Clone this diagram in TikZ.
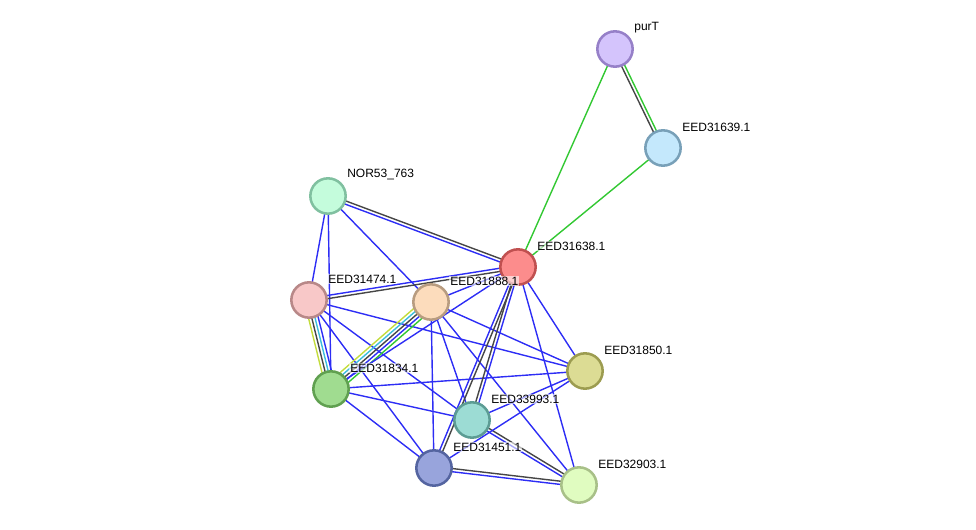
\documentclass[tikz,border=0pt]{standalone}
\usepackage{fontspec}
\setmainfont{Liberation Sans}
\usetikzlibrary{calc,backgrounds}
\definecolor{cb}{RGB}{45,45,245}
\definecolor{ck}{RGB}{70,70,70}
\definecolor{cg}{RGB}{50,200,50}
\definecolor{cy}{RGB}{195,220,60}
\definecolor{cc}{RGB}{60,190,220}
\definecolor{fpurT}{RGB}{212,196,252}\definecolor{dpurT}{RGB}{150,128,200}
\definecolor{f639}{RGB}{196,232,252}\definecolor{d639}{RGB}{120,160,184}
\definecolor{fnor}{RGB}{196,252,220}\definecolor{dnor}{RGB}{128,192,160}
\definecolor{f638}{RGB}{252,140,140}\definecolor{d638}{RGB}{192,80,80}
\definecolor{f474}{RGB}{248,200,200}\definecolor{d474}{RGB}{184,136,136}
\definecolor{f888}{RGB}{252,220,188}\definecolor{d888}{RGB}{184,156,128}
\definecolor{f850}{RGB}{220,220,148}\definecolor{d850}{RGB}{156,156,80}
\definecolor{f834}{RGB}{160,220,144}\definecolor{d834}{RGB}{96,160,80}
\definecolor{f993}{RGB}{156,220,212}\definecolor{d993}{RGB}{92,156,148}
\definecolor{f451}{RGB}{152,164,220}\definecolor{d451}{RGB}{84,100,160}
\definecolor{f903}{RGB}{224,252,192}\definecolor{d903}{RGB}{168,192,136}
\newcommand\pedge[3]{\foreach \o/\c in {#3}{\draw[edg,draw=\c] ($(#1.center)!\o!90:(#2.center)$) -- ($(#2.center)!\o!-90:(#1.center)$);}}
\begin{document}
\begin{tikzpicture}[x=0.75pt,y=-0.75pt,
  prot/.style={circle,draw,line width=1.9pt,minimum size=26.5pt,inner sep=0pt},
  lab/.style={anchor=west,font=\fontsize{9}{10}\selectfont,fill=white,fill opacity=0.6,text opacity=1,inner sep=0.8pt},
  edg/.style={line width=1.05pt}]
\useasboundingbox (0,0) rectangle (976,530);
\node[prot,fill=fpurT,draw=dpurT] (purT) at (615,49) {};
\node[prot,fill=f639,draw=d639] (n639) at (663,148) {};
\node[prot,fill=fnor,draw=dnor] (nor) at (328,196) {};
\node[prot,fill=f638,draw=d638] (n638) at (518,267) {};
\node[prot,fill=f474,draw=d474] (n474) at (309,300) {};
\node[prot,fill=f888,draw=d888] (n888) at (431,302) {};
\node[prot,fill=f850,draw=d850] (n850) at (585,371) {};
\node[prot,fill=f834,draw=d834] (n834) at (331,389) {};
\node[prot,fill=f993,draw=d993] (n993) at (472,420) {};
\node[prot,fill=f451,draw=d451] (n451) at (434,468) {};
\node[prot,fill=f903,draw=d903] (n903) at (579,485) {};
\begin{scope}[on background layer]
\pedge{purT}{n639}{1.2pt/cg,-1.2pt/ck}
\pedge{purT}{n638}{0pt/cg}
\pedge{n639}{n638}{0pt/cg}
\pedge{nor}{n638}{1.2pt/ck,-1.2pt/cb}
\pedge{nor}{n474}{0pt/cb}
\pedge{nor}{n834}{0pt/cb}
\pedge{nor}{n888}{0pt/cb}
\pedge{n474}{n638}{1.2pt/cb,-1.2pt/ck}
\pedge{n474}{n834}{-3.6pt/cy,-1.2pt/ck,1.2pt/cc,3.6pt/cb}
\pedge{n474}{n850}{0pt/cb}
\pedge{n474}{n993}{0pt/cb}
\pedge{n474}{n451}{0pt/cb}
\pedge{n888}{n834}{-4.8pt/cy,-2.4pt/cc,0pt/ck,2.4pt/cb,4.8pt/cg}
\pedge{n888}{n638}{0pt/cb}
\pedge{n888}{n850}{0pt/cb}
\pedge{n888}{n993}{0pt/cb}
\pedge{n888}{n451}{0pt/cb}
\pedge{n888}{n903}{0pt/cb}
\pedge{n834}{n638}{0pt/cb}
\pedge{n834}{n850}{0pt/cb}
\pedge{n834}{n993}{0pt/cb}
\pedge{n834}{n451}{0pt/cb}
\pedge{n638}{n993}{-1.2pt/ck,1.2pt/cb}
\pedge{n638}{n451}{-1.2pt/cb,1.2pt/ck}
\pedge{n638}{n850}{0pt/cb}
\pedge{n638}{n903}{0pt/cb}
\pedge{n993}{n850}{0pt/cb}
\pedge{n993}{n903}{1.2pt/ck,-1.2pt/cb}
\pedge{n451}{n850}{0pt/cb}
\pedge{n451}{n903}{1.2pt/ck,-1.2pt/cb}
\end{scope}
\node[lab] (lpurT) at ($(purT)+(18,-21)$) {purT};
\node[lab] (l639) at ($(n639)+(18,-21)$) {EED31639.1};
\node[lab] (lnor) at ($(nor)+(18,-21)$) {NOR53\_763};
\node[lab] (l638) at ($(n638)+(18,-21)$) {EED31638.1};
\node[lab] (l474) at ($(n474)+(18,-21)$) {EED31474.1};
\node[lab] (l888) at ($(n888)+(18,-21)$) {EED31888.1};
\node[lab] (l850) at ($(n850)+(18,-21)$) {EED31850.1};
\node[lab] (l834) at ($(n834)+(18,-21)$) {EED31834.1};
\node[lab] (l993) at ($(n993)+(18,-21)$) {EED33993.1};
\node[lab] (l451) at ($(n451)+(18,-21)$) {EED31451.1};
\node[lab] (l903) at ($(n903)+(18,-21)$) {EED32903.1};
\end{tikzpicture}
\end{document}
